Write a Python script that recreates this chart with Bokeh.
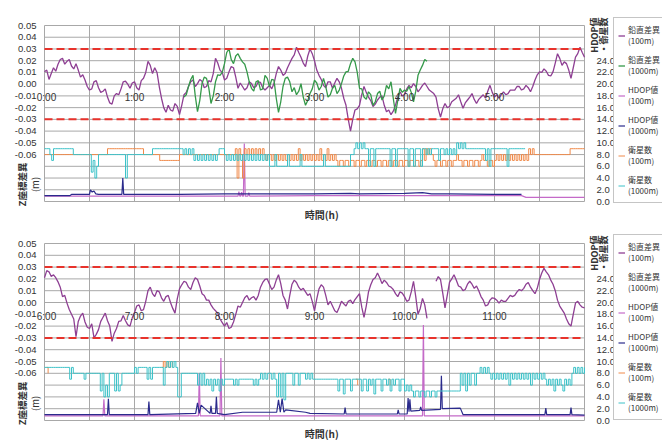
import numpy as np
from math import pi
from bokeh.plotting import figure
from bokeh.layouts import column
from bokeh.models import (Range1d, LinearAxis, FixedTicker, CustomJSTickFormatter,
                          Label, Legend, LegendItem)
from bokeh.embed import file_html
from bokeh.resources import INLINE

# ------------------------------------------------------------------ data
left_ticks = [0.05, 0.04, 0.03, 0.02, 0.01, 0.0, -0.01, -0.02, -0.03, -0.04,
              -0.05, -0.06, -0.07, -0.08, -0.09, -0.10]
right_ticks = [0, 2, 4, 6, 8, 10, 12, 14, 16, 18, 20, 22, 24, 26, 28, 30]
limit_lines = [0.03, -0.03]
top_hours = [0, 1, 2, 3, 4, 5]
top_hour_labels = ["0:00", "1:00", "2:00", "3:00", "4:00", "5:00"]
bot_hours = [6, 7, 8, 9, 10, 11]
bot_hour_labels = ["6:00", "7:00", "8:00", "9:00", "10:00", "11:00"]
legend_labels = ["鉛直差異\n(100m)", "鉛直差異\n(1000m)", "HDOP値\n(100m)",
                 "HDOP値\n(1000m)", "衛星数\n(100m)", "衛星数\n(1000m)"]

DIFF_STEP = 0.05   # h between vertical-difference samples (mid samples half-way)
SAT_STEP = 0.02    # h between satellite-count samples

# vertical difference (m): samples on the 3-min grid ...
diff100_top = [
    0.0105, 0.004, 0.014, 0.017, 0.022, 0.0195, 0.0155, 0.0175, 0.006, 0.0035,
    -0.005, 0.002, -0.003, -0.006, -0.011, -0.017, -0.008, -0.004, 0.0025, -0.0035,
    0.002, -0.005, 0.005, 0.0195, 0.009, 0.010, -0.012, -0.024, -0.022, -0.0165,
    -0.026, -0.009, -0.002, 0.0035, 0.0005, 0.0025, -0.002, 0.002, 0.022, 0.012,
    0.0035, 0.0105, 0.014, -0.0035, -0.002, -0.003, 0.0005, -0.002, 0.0015, -0.005,
    -0.001, 0.0005, 0.015, 0.0075, 0.014, 0.022, 0.0315, 0.023, 0.015, 0.030,
    0.020, 0.0075, -0.001, 0.002, -0.0035, 0.005, -0.0035, -0.018, -0.040, -0.022,
    -0.018, -0.002, -0.011, -0.019, -0.0135, -0.010, -0.0235, -0.026, -0.018, -0.0065,
    -0.009, -0.001, 0.0005, -0.0065, -0.001, -0.002, -0.0065, -0.011, -0.028, -0.0165,
    -0.019, -0.0135, -0.009, -0.0205, -0.0135, -0.008, -0.0165, -0.011, -0.012, -0.001,
    -0.011, -0.012, -0.0065, -0.008, -0.005, -0.002, -0.005, -0.001, -0.0065, 0.0035,
    0.0105, 0.013, 0.0075, 0.0105, 0.026, 0.016, 0.0175, 0.005, 0.023, 0.0315,
    0.023]
# ... and the readings half-way between them
diff100_top_mid = [
    0.012, 0.009, 0.011, 0.021, 0.017, 0.021, 0.013, 0.012, 0.008, -0.002,
    -0.004, 0.003, -0.007, -0.004, -0.016, -0.010, -0.009, 0.002, 0.000, 0.001,
    -0.003, 0.003, 0.010, 0.016, 0.014, -0.002, -0.020, -0.018, -0.023, -0.019,
    -0.018, -0.007, 0.002, -0.002, 0.004, -0.003, 0.003, 0.009, 0.018, 0.010,
    0.005, 0.015, 0.006, 0.001, -0.005, 0.002, -0.003, 0.002, -0.003, -0.003,
    -0.004, 0.009, 0.012, 0.009, 0.018, 0.025, 0.027, 0.018, 0.024, 0.026,
    0.012, 0.004, -0.003, 0.002, 0.001, 0.002, -0.012, -0.030, -0.030, -0.021,
    -0.009, -0.007, -0.014, -0.017, -0.011, -0.018, -0.022, -0.023, -0.011, -0.010,
    -0.004, -0.003, -0.002, -0.004, 0.001, -0.005, -0.008, -0.021, -0.021, -0.020,
    -0.015, -0.012, -0.015, -0.016, -0.011, -0.013, -0.013, -0.009, -0.006, -0.007,
    -0.009, -0.009, -0.009, -0.005, -0.005, -0.002, -0.004, -0.003, -0.002, 0.008,
    0.010, 0.011, 0.007, 0.018, 0.022, 0.019, 0.012, 0.014, 0.026, 0.027]
diff1000_top = [None] * 31 + [
    -0.011, -0.002, 0.0075, -0.0235, 0.0005, 0.005, -0.0165, 0.002, 0.0075, 0.0175,
    0.030, 0.0175, 0.026, 0.019, 0.0105, -0.0035, 0.002, -0.005, 0.0075, -0.002,
    0.0035, -0.024, -0.002, 0.006, -0.0065, -0.009, 0.0005, -0.018, -0.008, 0.0035,
    -0.005, 0.005, -0.011, -0.0035, -0.008, 0.0005, 0.0105, 0.0175, 0.019, -0.0035,
    -0.011, -0.0065, -0.018, -0.008, -0.0135, -0.001, 0.002, -0.025, -0.0035, -0.005,
    -0.002, -0.015, 0.0075, 0.016, 0.0195, None, 0.0175] + [None] * 33
diff1000_top_mid = [None] * 31 + [
    -0.009, 0.004, -0.010, -0.014, 0.006, -0.003, -0.010, 0.008, 0.010, 0.027,
    0.021, 0.024, 0.022, 0.017, 0.002, -0.006, 0.003, -0.004, 0.005, 0.004,
    -0.012, -0.015, 0.005, 0.002, -0.003, -0.006, -0.011, -0.014, -0.004, 0.001,
    -0.002, -0.002, -0.009, -0.001, -0.005, 0.007, 0.011, 0.022, 0.010, -0.004,
    -0.013, -0.009, -0.015, -0.006, -0.010, -0.004, -0.012, -0.014, -0.007, -0.006,
    -0.007, -0.006, 0.012, 0.021, None, None] + [None] * 33
diff100_bot = [
    0.021, 0.026, 0.0235, 0.0175, 0.005, -0.0005, -0.010, -0.029, -0.0115, -0.0165,
    -0.022, -0.030, -0.023, -0.0125, -0.0155, -0.033, -0.022, -0.0155, -0.0155, -0.020,
    -0.0085, -0.002, -0.006, 0.010, 0.0075, 0.010, 0.004, 0.005, 0.000, -0.009,
    0.0115, 0.018, 0.013, 0.017, 0.0195, 0.0075, 0.002, -0.002, -0.007, -0.014,
    -0.020, -0.022, -0.0165, -0.003, 0.000, 0.006, 0.004, 0.002, 0.013, 0.0195,
    0.0155, 0.013, 0.0235, 0.006, -0.0055, 0.0155, 0.017, 0.0105, 0.009, 0.0075,
    -0.007, 0.0115, 0.013, -0.002, -0.003, -0.0085, 0.001, -0.003, 0.002, 0.0025,
    0.0075, -0.0125, 0.009, 0.0195, 0.025, 0.016, 0.017, 0.013, 0.0075, 0.009,
    0.005, 0.002, 0.018, -0.010, 0.0035, -0.0135, None, 0.018, 0.0195, -0.0045,
    0.017, 0.0235, 0.014, 0.010, 0.0155, 0.0155, 0.014, 0.005, -0.003, 0.002,
    0.0035, -0.0005, 0.001, 0.0035, 0.005, 0.009, 0.010, 0.0155, 0.013, 0.0075,
    0.0195, 0.029, 0.0235, 0.0155, 0.002, -0.006, -0.014, -0.020, -0.0005, -0.002,
    -0.0045]
diff100_bot_mid = [
    0.027, 0.022, 0.021, 0.013, 0.006, -0.006, -0.014, -0.016, -0.009, -0.021,
    -0.018, -0.027, -0.016, -0.009, -0.020, -0.026, -0.016, -0.011, -0.019, -0.013,
    -0.003, -0.007, 0.001, 0.013, 0.005, 0.009, 0.001, 0.006, -0.005, 0.003,
    0.015, 0.017, 0.011, 0.021, 0.014, 0.006, 0.002, -0.005, -0.009, -0.017,
    -0.017, -0.021, -0.010, -0.004, 0.004, 0.002, 0.005, 0.006, 0.017, 0.020,
    0.011, 0.019, 0.016, 0.002, 0.006, 0.019, 0.013, 0.012, 0.006, 0.001,
    0.003, 0.015, 0.006, 0.001, -0.007, -0.004, -0.001, 0.001, -0.001, 0.005,
    -0.004, -0.003, 0.015, 0.021, 0.021, 0.019, 0.014, 0.011, 0.005, 0.008,
    0.001, 0.009, 0.005, -0.005, -0.002, None, None, 0.022, 0.008, 0.006,
    0.020, 0.019, 0.013, 0.011, 0.018, 0.012, 0.010, 0.002, -0.002, 0.004,
    0.002, 0.002, 0.001, 0.006, 0.006, 0.011, 0.012, 0.017, 0.010, 0.012,
    0.025, 0.026, 0.019, 0.010, -0.003, -0.009, -0.018, -0.010, 0.001, -0.004]
diff1000_bot = []
diff1000_bot_mid = []

# satellite counts, every 1.2 min (0.02 h)
sat100_top = (
    [8] * 25 +
    [8, 8, 8, 8, 8, 8, 8, 8, 8, 8, 9, 9, 9, 9, 9, 9, 9, 9, 9, 9, 9, 9, 9, 9, 9] +
    [9, 9, 9, 9, 9, 8, 8, 8, 8, 8, 8, 8, 8, 8, 7, 7, 7, 7, 7, 7, 7, 7, 7, 7, 7] +
    [8] * 25 +
    [8, 8, 8, 8, 8, 8, 9, 4, 9, 8, 4, 9, 8, 9, 8, 9, 8, 9, 8, 9, 8, 9, 8, 7, 8] +
    [8, 7, 8, 7, 8, 7, 8, 7, 8, 7, 8, 7, 8, 7, 8, 7, 9, 7, 8, 7, 8, 7, 8, 7, 8] +
    [7, 8, 7, 9, 7, 8, 7, 9, 7, 8, 7, 8, 7, 6, 7, 7, 6, 7, 7, 6, 7, 7, 6, 7, 7] +
    [6, 7, 7, 6, 7, 7, 6, 7, 7, 6, 7, 7, 6, 7, 7, 6, 7, 7, 6, 7, 7, 6, 7, 7, 6] +
    [7, 7, 6, 7, 7, 6, 7, 7, 6, 7, 9, 7, 9, 8, 9, 8, 7, 6, 7, 7, 6, 7, 7, 6, 7] +
    [7, 6, 7, 7, 8, 7, 7, 6, 7, 7, 6, 7, 7, 6, 7, 7, 6, 7, 8, 7, 7, 6, 7, 7, 6] +
    [7, 8, 7, 8, 7, 8, 7, 8, 7, 8, 7, 8, 7, 8, 7, 8, 7, 8, 7, 9, 8, 9, 8, 8, 8] +
    [8, 8, 8, 8, 8, 8, 8, 8, 8, 8, 8, 8, 8, 8, 8, 8, 8, 9, 9, 9, 9, 9, 9, 9, 9, 9])
sat1000_top = (
    [9, 9, 9, 8, 7, 9, 9, 9, 9, 9, 9, 9, 9, 9, 9, 9, 8, 8, 8, 8, 8, 8, 8, 8, 8] +
    [8, 5, 7, 4, 6, 8, 8, 8, 8, 8, 8, 8, 8, 8, 8, 8, 8, 8, 8, 8, 4, 8, 8, 8, 8] +
    [8, 8, 8, 8, 8, 8, 8, 8, 8, 8, 9, 9, 9, 9, 9, 9, 9, 9, 9, 9, 9, 9, 9, 9, 9] +
    [9, 9, 8, 9, 8, 9, 8, 9, 7, 8, 7, 8, 7, 8, 7, 8, 7, 8, 7, 8, 7, 8, 9, 9, 9] +
    [8, 7, 8, 7, 8, 7, 8, 7, 8, 7, 8, 7, 8, 7, 8, 7, 8, 7, 8, 7, 8, 7, 8, 7, 8] +
    [6, 6, 6, 8, 6, 6, 6, 6, 6, 6, 8, 6, 6, 6, 6, 6, 6, 8, 6, 6, 6, 6, 6, 6, 6] +
    [6, 6, 6, 6, 6, 8, 6, 6, 6, 6, 6, 6, 6, 6, 6, 6, 6, 6, 6, 6, 8, 8, 9, 10, 9] +
    [10, 9, 10, 9, 9, 6, 9, 9, 6, 9, 9, 9, 9, 9, 9, 9, 9, 6, 9, 9, 6, 9, 9, 9, 9] +
    [9, 9, 6, 9, 9, 6, 9, 9, 9, 6, 9, 9, 8, 9, 8, 9, 9, 9, 9, 7, 9, 9, 8, 9, 8] +
    [9, 8, 9, 8, 10, 9, 10, 9, 10, 9, 9, 9, 9, 9, 9, 9, 9, 9, 9, 9, 7, 9, 6, 9, 9] +
    [9, 9, 9, 9, 9, 9, 9, 6, 9, 9, 9, 9, 9, 9, 9, 9, 9, 9, None, None, None, None, None, None, None] +
    [None] * 26)
sat100_bot_t = [6.02, 6.04, 6.06, 7.30, 7.32, 7.34, 7.36, 7.38, 7.40, 7.42, 7.44,
                9.46, 9.48, 9.50, 9.82, 9.84, 9.86]
sat100_bot_v = [9, 8, None, 9, 10, 9, 10, 9, 10, 9, None, 7, 6, None, 7, 6, None]
sat1000_bot = (
    [9, 9, 9, 9, 9, 9, 9, 9, 9, 9, 9, 9, 9, 9, 7, 9, 8, 8, 8, 8, 8, 8, 7, 8, 8] +
    [8, 8, 8, 8, 8, 8, 5, 8, 4, 6, 4, 8, 8, 8, 5, 8, 5, 6, 8, 8, 8, 8, 8, 8, 8] +
    [9, 8, 9, 9, 9, 9, 9, 7, 9, 7, 9, 9, 9, 9, 9, 9, 6, 9, 10, 9, 10, 9, 10, 9, 4] +
    [4, 8, 8, 8, 8, 8, 8, 8, 8, 8, 6, 8, 6, 8, 6, 7, 6, 7, 5, 7, 6, 7, 5, 7, 6] +
    [7, 7, 7, 7, 7, 6, 7, 6, 7, 7, 7, 7, 7, 7, 7, 7, 6, 7, 6, 7, 8, 7, 8, 7, 8] +
    [8, 7, 8, 7, 4, 8, 4, 8, 3.5, 8, 8, 8, 8, 6, 8, 8, 6, 8, 8, 8, 7, 8, 7, 8, 7] +
    [7, 7, 7, 7, 7, 7, 7, 7, 7, 7, 7, 7, 7, 5, 7, 7, 4.5, 7, 7, 7, 5, 7, 7, 7, 7] +
    [7, 5, 7, 7, 5, 7, 6, 7, 4.5, 7, 7, 7, 5, 7, 7, 6, 7, 5, 7, 6, 7, 7, 5, 7, 7] +
    [5, 6, 5, 6, 5, 4, 5, 5, 4, 5, 5, 4, 5, 5, 4, 5, 5, 4, 5, 5, 5, 5, 5, 5, 5] +
    [5, 5, 5, 5, 5, 5, 8, 6, 8, 5, 8, 6, 8, 8, 6, 8, 8, 9, 8, 9, 8, 9, 8, 7, 8] +
    [7, 8, 7, 8, 7, 8, 7, 8, 6, 8, 7, 8, 7, 8, 7, 8, 7, 8, 7, 8, 6, 8, 7, 8, 7] +
    [8, 7, 8, 7, 6, 7, 6, 7, 5, 7, 6, 7, 6, 5, 7, 6, 7, 6, 8, 9, 8, 9, 8, 9, 8, 9])

hdop100_top_t = [0.0, 2.15, 2.16, 2.17, 2.18, 2.19, 2.20, 2.21, 2.22, 2.23, 2.26, 2.27, 2.28,
                 3.0, 4.0, 5.3, 5.35, 6.0]
hdop100_top_v = [0.9, 0.9, 1.7, 0.9, 0.9, 1.6, 0.9, 0.9, 9.9, 0.9, 0.9, 1.5, 0.9,
                 1.0, 1.0, 1.0, 0.7, 0.7]
hdop1000_top_t = [0.0, 0.28, 0.30, 0.50, 0.51, 0.53, 0.55, 0.57, 0.60, 0.86, 0.87, 0.88,
                  1.5, 2.0, 2.5, 3.0, 3.4, 3.5, 4.0, 4.2, 4.3, 4.5, 5.0, 5.3]
hdop1000_top_v = [1.0, 1.0, 1.2, 1.2, 2.0, 1.6, 1.8, 1.3, 1.2, 1.2, 4.0, 1.2,
                  1.2, 1.3, 1.3, 1.3, 1.4, 1.3, 1.4, 1.5, 1.3, 1.3, 1.2, 1.2]
hdop100_bot_t = [6.0, 6.65, 6.66, 6.67, 7.71, 7.72, 7.73, 7.95, 7.96, 7.97,
                 10.20, 10.21, 10.22, 12.0]
hdop100_bot_v = [0.8, 0.8, 3.6, 0.8, 0.8, 8.0, 0.8, 0.8, 10.6, 0.8,
                 0.8, 16.2, 0.8, 0.8]
hdop1000_bot_t = [6.0, 6.70, 6.71, 6.72, 7.15, 7.16, 7.17, 7.68, 7.70, 7.72, 7.74,
                  7.84, 7.85, 7.86, 7.90, 7.91, 7.92, 8.0, 8.2, 8.58, 8.60, 8.62,
                  8.64, 8.66, 8.68, 8.9, 8.95, 9.33, 9.34, 9.35, 9.6, 9.92, 9.93,
                  9.94, 10.03, 10.04, 10.05, 10.06, 10.07, 10.17, 10.18, 10.19,
                  10.40, 10.41, 10.42, 10.62, 10.65, 11.0, 11.56, 11.57, 11.58,
                  11.84, 11.85, 11.86, 12.0]
hdop1000_bot_v = [1.0, 1.0, 3.7, 1.0, 1.0, 3.2, 1.0, 1.2, 3.0, 1.2, 2.6,
                  1.2, 2.5, 1.2, 1.2, 4.0, 1.2, 1.0, 1.4, 1.4, 3.5, 1.4,
                  3.7, 1.4, 1.8, 1.4, 1.2, 1.1, 2.2, 1.1, 1.1, 1.1, 1.8,
                  1.1, 1.1, 3.8, 1.5, 3.6, 1.6, 1.7, 2.3, 1.7,
                  1.9, 7.6, 2.0, 2.1, 1.0, 1.0, 1.0, 2.1, 1.0,
                  1.0, 2.2, 1.0, 0.9]

# ------------------------------------------------------------------ style / layout
W = 662
PLOT_L, PLOT_R = 44, 584          # plot-area edges in px
C_D100 = "#8e3f93"
C_D1000 = "#35994a"
C_H100 = "#c46ac8"
C_H1000 = "#2b2b8c"
C_S100 = "#f08a4a"
C_S1000 = "#3cc2c8"
C_LIMIT = "#e8322b"
C_GRID = "#a8a8a8"
C_TEXT = "#333333"
NUM_FONT = "Liberation Sans"
JP_FONT = "Noto Sans CJK JP"


def arr(v):
    return np.array([np.nan if x is None else x for x in v], dtype=float)


def interleave(t0, main, mid):
    xs, ys = [], []
    for i, v in enumerate(main):
        xs.append(round(t0 + DIFF_STEP * i, 4))
        ys.append(v)
        if i < len(mid):
            xs.append(round(t0 + DIFF_STEP * (i + 0.5), 4))
            ys.append(mid[i])
    return xs, arr(ys)


def make_panel(t0, hours, hour_labels, d100, d100m, d1000, d1000m, h100_t, h100_v,
               h1000_t, h1000_v, s100_t, s100_v, s1000, H, ptop, pbot, leg_vy):
    span_h = 6.0
    ppx = (PLOT_R - PLOT_L) / span_h
    ytop_v, ybot_v = left_ticks[0], left_ticks[-1]
    ppy = (pbot - ptop) / (ytop_v - ybot_v)
    smax = right_ticks[-1]
    pps = (pbot - ptop) / smax
    p = figure(width=W, height=H,
               x_range=Range1d(t0 - PLOT_L / ppx, t0 + span_h + (W - PLOT_R) / ppx),
               y_range=Range1d(ybot_v - (H - pbot) / ppy, ytop_v + ptop / ppy),
               output_backend="svg", toolbar_location=None,
               min_border_left=0, min_border_right=0, min_border_top=0, min_border_bottom=0)
    p.extra_y_ranges = {"sat": Range1d(-(H - pbot) / pps, smax + ptop / pps)}
    p.background_fill_color = "white"
    p.border_fill_color = "white"
    p.outline_line_color = None
    p.xgrid.visible = False
    p.ygrid.visible = False
    p.xaxis.visible = False

    xt = [t0 + 0.5 * i for i in range(13)]
    p.segment(x0=xt, x1=xt, y0=[ybot_v] * len(xt), y1=[ytop_v] * len(xt),
              line_color=C_GRID, line_width=1)
    p.segment(x0=[t0] * len(left_ticks), x1=[t0 + span_h] * len(left_ticks),
              y0=left_ticks, y1=left_ticks, line_color=C_GRID, line_width=1)

    ya = p.yaxis[0]
    ya.fixed_location = t0
    ya.ticker = FixedTicker(ticks=left_ticks)
    ya.formatter = CustomJSTickFormatter(code="return tick < -0.065 ? '' : tick.toFixed(2);")
    ya.axis_line_color = None
    ya.major_tick_line_color = None
    ya.minor_tick_line_color = None
    ya.major_label_standoff = 2
    ya.major_label_text_font = NUM_FONT
    ya.major_label_text_font_size = "9.5px"
    ya.major_label_text_color = C_TEXT

    ra = LinearAxis(y_range_name="sat", ticker=FixedTicker(ticks=right_ticks),
                    formatter=CustomJSTickFormatter(code="return tick > 25 ? '' : tick.toFixed(1);"))
    ra.fixed_location = t0 + span_h
    ra.axis_line_color = None
    ra.major_tick_line_color = None
    ra.minor_tick_line_color = None
    ra.major_label_standoff = 6
    ra.major_label_text_font = NUM_FONT
    ra.major_label_text_font_size = "9.5px"
    ra.major_label_text_color = C_TEXT
    p.add_layout(ra, "right")

    x100, y100 = interleave(t0, d100, d100m)
    x1000, y1000 = interleave(t0, d1000, d1000m)
    st = [round(t0 + SAT_STEP * i, 3) for i in range(len(s1000))]

    r1 = p.line(x100, y100, color=C_D100, line_width=1.3)
    r2 = p.line(x1000, y1000, color=C_D1000, line_width=1.3)
    r3 = p.line(h100_t, arr(h100_v), y_range_name="sat", color=C_H100, line_width=1.2)
    r4 = p.line(h1000_t, arr(h1000_v), y_range_name="sat", color=C_H1000, line_width=1.2)
    r5 = p.step(s100_t, arr(s100_v), mode="after", y_range_name="sat", color=C_S100, line_width=1)
    r6 = p.step(st, arr(s1000), mode="after", y_range_name="sat", color=C_S1000, line_width=1)

    p.segment(x0=[t0] * len(limit_lines), x1=[t0 + span_h] * len(limit_lines),
              y0=limit_lines, y1=limit_lines, line_color=C_LIMIT, line_width=2,
              line_dash="8 4")

    for h, lab in zip(hours, hour_labels):
        p.add_layout(Label(x=h, y=0.0, text=lab, text_align="center", text_baseline="top",
                           x_offset=2 if h == t0 else 0, y_offset=-8,
                           text_font=NUM_FONT, text_font_size="10px", text_color=C_TEXT))

    p.add_layout(Label(x=t0 + 3.08, y=ybot_v, text="時間(h)", text_align="center",
                       text_baseline="top", y_offset=-5, text_font=JP_FONT,
                       text_font_size="10px", text_font_style="bold", text_color=C_TEXT))
    p.add_layout(Label(x=t0, y=-0.0855, text="Z座標差異", angle=pi / 2, x_offset=-23,
                       text_align="center", text_baseline="middle", text_font=JP_FONT,
                       text_font_size="9.5px", text_font_style="bold", text_color=C_TEXT))
    p.add_layout(Label(x=t0, y=-0.0855, text="(m)", angle=pi / 2, x_offset=-10,
                       text_align="center", text_baseline="middle", text_font=JP_FONT,
                       text_font_size="9.5px", text_color=C_TEXT))
    p.add_layout(Label(x=t0 + span_h, y=ytop_v, text="HDOP値", angle=pi / 2, x_offset=10,
                       y_offset=8, text_align="right", text_baseline="middle",
                       text_font=JP_FONT, text_font_size="9px", text_font_style="bold",
                       text_color=C_TEXT))
    p.add_layout(Label(x=t0 + span_h, y=ytop_v, text="・衛星数", angle=pi / 2, x_offset=18.5,
                       y_offset=8, text_align="right", text_baseline="middle",
                       text_font=JP_FONT, text_font_size="9px", text_font_style="bold",
                       text_color=C_TEXT))

    items = [LegendItem(label=lab, renderers=[r])
             for lab, r in zip(legend_labels, [r1, r2, r3, r4, r5, r6])]
    leg = Legend(items=items, location=(613, leg_vy), orientation="vertical",
                 label_text_font=JP_FONT, label_text_font_size="8px",
                 label_text_color=C_TEXT, label_text_line_height=1.6,
                 glyph_width=7, glyph_height=13, label_height=26, label_standoff=3,
                 padding=4, spacing=4, margin=0, border_line_color="#8c8c8c",
                 background_fill_color="white", background_fill_alpha=1.0)
    p.add_layout(leg)
    return p


p_top = make_panel(0, top_hours, top_hour_labels, diff100_top, diff100_top_mid,
                   diff1000_top, diff1000_top_mid,
                   hdop100_top_t, hdop100_top_v, hdop1000_top_t, hdop1000_top_v,
                   [round(SAT_STEP * i, 3) for i in range(len(sat100_top))], sat100_top,
                   sat1000_top, 222, 25, 201, 19)
p_bot = make_panel(6, bot_hours, bot_hour_labels, diff100_bot, diff100_bot_mid,
                   diff1000_bot, diff1000_bot_mid,
                   hdop100_bot_t, hdop100_bot_v, hdop1000_bot_t, hdop1000_bot_v,
                   sat100_bot_t, sat100_bot_v, sat1000_bot, 219, 21, 198, 21)

layout = column(p_top, p_bot, spacing=0)
open("out.html", "w").write(file_html(layout, INLINE))
